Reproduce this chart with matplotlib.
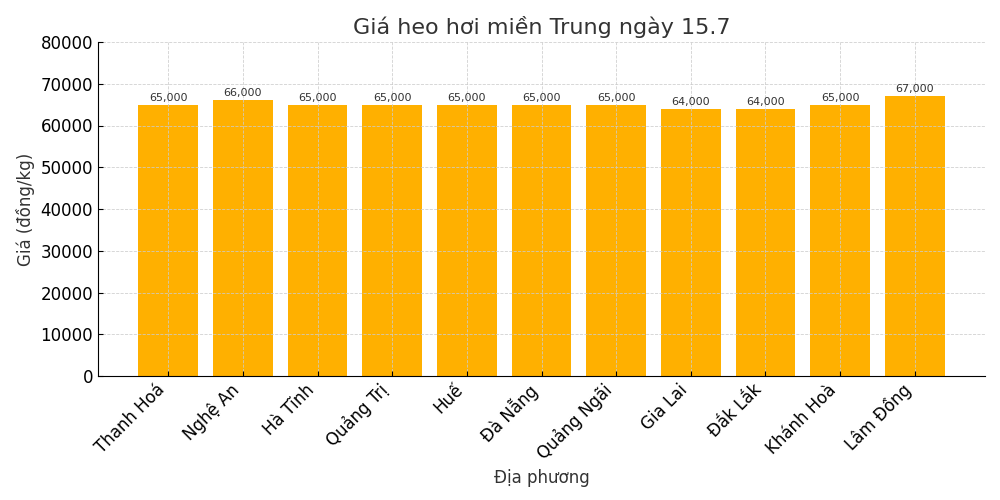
import matplotlib.pyplot as plt

provinces = ["Thanh Hoá", "Nghệ An", "Hà Tĩnh", "Quảng Trị", "Huế", "Đà Nẵng",
             "Quảng Ngãi", "Gia Lai", "Đắk Lắk", "Khánh Hoà", "Lâm Đồng"]
prices = [65000, 66000, 65000, 65000, 65000, 65000, 65000, 64000, 64000, 65000, 67000]

plt.rcParams['font.family'] = ['DejaVu Sans']

fig, ax = plt.subplots(figsize=(10, 5), dpi=100)
bars = ax.bar(provinces, prices, color='#FFB000')

for b, v in zip(bars, prices):
    ax.text(b.get_x() + b.get_width() / 2, v + 500, f"{v:,}",
            ha='center', va='bottom', fontsize=8, color='#333333')

ax.set_ylim(0, 80000)
ax.set_title('Giá heo hơi miền Trung ngày 15.7', fontsize=16, color='#333333')
ax.set_xlabel('Địa phương', fontsize=12, color='#333333')
ax.set_ylabel('Giá (đồng/kg)', fontsize=12, color='#333333')
ax.tick_params(axis='both', labelsize=12, direction='in')
plt.xticks(rotation=45, ha='right')
ax.grid(True, linestyle='--', linewidth=0.6, color='#cccccc', alpha=0.9)
ax.spines['top'].set_visible(False)
ax.spines['right'].set_visible(False)

plt.subplots_adjust(left=0.098, right=0.985, top=0.916, bottom=0.248)
plt.savefig('out.png', dpi=100)
